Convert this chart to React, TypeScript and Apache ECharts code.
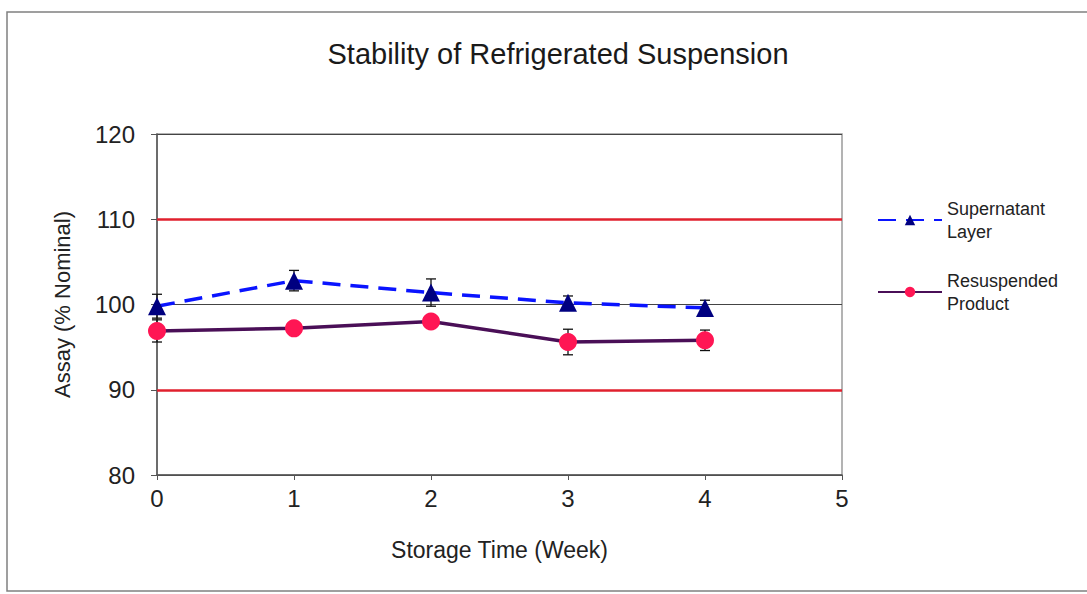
import React, { useEffect, useRef } from "react";
import * as echarts from "echarts";

const weeks = [0, 1, 2, 3, 4];
const supernatant = [99.8, 102.8, 101.4, 100.2, 99.6];
const supernatantErr = [1.4, 1.2, 1.6, 0.8, 0.9];
const resuspended = [96.9, 97.2, 98.0, 95.6, 95.8];
const resuspendedErr = [1.3, 0.3, 0.3, 1.5, 1.2];
const limits = [110, 90];
const seriesNames = ["Supernatant Layer", "Resuspended Product"];

const FONT = "Arial, 'Liberation Sans', sans-serif";

function errData(vals: number[], errs: number[]) {
  return weeks.map((w, i) => [w, vals[i] - errs[i], vals[i] + errs[i]]);
}

function errorRender(params: any, api: any) {
  const x = api.value(0);
  const p1 = api.coord([x, api.value(1)]);
  const p2 = api.coord([x, api.value(2)]);
  const cap = 5;
  const style = { stroke: "#111", lineWidth: 1.3 };
  return {
    type: "group",
    children: [
      { type: "line", shape: { x1: p1[0], y1: p1[1], x2: p2[0], y2: p2[1] }, style },
      { type: "line", shape: { x1: p1[0] - cap, y1: p1[1], x2: p1[0] + cap, y2: p1[1] }, style },
      { type: "line", shape: { x1: p2[0] - cap, y1: p2[1], x2: p2[0] + cap, y2: p2[1] }, style },
    ],
  };
}

export default function App() {
  const ref = useRef<HTMLDivElement>(null);
  useEffect(() => {
    const chart = echarts.init(ref.current!, null, { renderer: "svg" });
    chart.setOption({
      animation: false,
      backgroundColor: "#fff",
      graphic: [
        {
          type: "rect",
          shape: { x: 7, y: 12, width: 1100, height: 579 },
          style: { fill: "none", stroke: "#808080", lineWidth: 1.5 },
          silent: true,
          z: -1,
        },
      ],
      title: {
        text: "Stability of Refrigerated Suspension",
        left: 553,
        top: 34,
        textAlign: "center",
        textStyle: { fontFamily: FONT, fontSize: 29, fontWeight: "normal", color: "#1a1a1a" },
      },
      legend: {
        orient: "vertical",
        left: 872,
        top: 192,
        itemWidth: 64,
        itemHeight: 13,
        itemGap: 26,
        data: seriesNames,
        formatter: (n: string) => n.replace(" ", "\n"),
        textStyle: { fontFamily: FONT, fontSize: 18, color: "#222", lineHeight: 23 },
      },
      grid: {
        left: 157,
        right: 245,
        top: 134,
        bottom: 119,
        show: true,
        borderColor: "#9a9a9a",
        borderWidth: 1.5,
      },
      xAxis: {
        type: "value",
        min: 0,
        max: 5,
        interval: 1,
        name: "Storage Time (Week)",
        nameLocation: "middle",
        nameGap: 63,
        nameTextStyle: { fontFamily: FONT, fontSize: 23, color: "#222" },
        axisLine: { onZero: false, lineStyle: { color: "#555", width: 1.5 } },
        axisTick: { show: true, inside: false, length: 5, lineStyle: { color: "#555" } },
        axisLabel: { fontFamily: FONT, fontSize: 24, color: "#222", margin: 11 },
        splitLine: { show: false },
      },
      yAxis: {
        type: "value",
        min: 80,
        max: 120,
        interval: 10,
        name: "Assay (% Nominal)",
        nameLocation: "middle",
        nameGap: 84,
        nameTextStyle: { fontFamily: FONT, fontSize: 22, color: "#222" },
        axisLine: { show: true, lineStyle: { color: "#555", width: 1.5 } },
        axisTick: { show: true, inside: false, length: 6, lineStyle: { color: "#555" } },
        axisLabel: { fontFamily: FONT, fontSize: 24, color: "#222", margin: 22 },
        splitLine: { show: true, lineStyle: { color: "#444", width: 1 } },
      },
      series: [
        {
          name: "limits",
          type: "line",
          data: [],
          silent: true,
          markLine: {
            silent: true,
            symbol: "none",
            label: { show: false },
            lineStyle: { color: "#e0202e", width: 2.5, type: "solid" },
            data: limits.map((v) => ({ yAxis: v })),
          },
        },
        {
          name: seriesNames[0],
          type: "line",
          data: weeks.map((w, i) => [w, supernatant[i]]),
          symbol: "triangle",
          symbolSize: 18,
          itemStyle: { color: "#000080" },
          lineStyle: { color: "#0a14ff", width: 3.5, type: [18, 10] },
          z: 4,
        },
        {
          name: seriesNames[1],
          type: "line",
          data: weeks.map((w, i) => [w, resuspended[i]]),
          symbol: "circle",
          symbolSize: 18,
          itemStyle: { color: "#ff1654" },
          lineStyle: { color: "#4a0f57", width: 3.5 },
          z: 4,
        },
        {
          name: "err1",
          type: "custom",
          renderItem: errorRender,
          data: errData(supernatant, supernatantErr),
          z: 3,
          silent: true,
        },
        {
          name: "err2",
          type: "custom",
          renderItem: errorRender,
          data: errData(resuspended, resuspendedErr),
          z: 3,
          silent: true,
        },
      ],
    });
    return () => chart.dispose();
  }, []);
  return (
    <div
      ref={ref}
      style={{ position: "absolute", left: 0, top: 0, width: 1087, height: 594 }}
    />
  );
}
